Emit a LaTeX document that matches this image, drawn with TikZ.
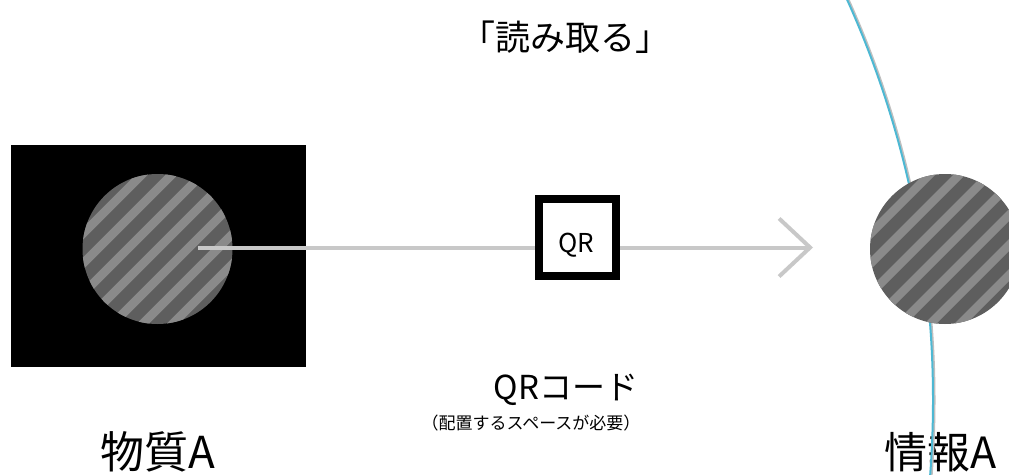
\documentclass[tikz,border=0pt]{standalone}
\usepackage{fontspec}
\setmainfont{Noto Sans CJK JP}
\usetikzlibrary{arrows.meta,calc}
\definecolor{stripedark}{HTML}{5E5E5E}
\definecolor{stripelight}{HTML}{8A8A8A}
\definecolor{connectorgray}{HTML}{C8C8C8}
\definecolor{arcblue}{HTML}{4DB8D3}
\tikzset{
  striped/.style={circle, minimum size=150pt, inner sep=0pt, fill=stripedark,
    path picture={
      \foreach \i in {-6,...,6}{
        \draw[stripelight, line width=8.5pt]
          ($(path picture bounding box.center)+(\i*30,0)+(-120,120)$) -- ++(240,-240);
      }}},
  txt/.style={anchor=base, inner sep=0pt, text=black},
  qrbox/.style={draw=black, line width=8pt, fill=white, minimum size=77pt, inner sep=0pt},
  connectorline/.style={draw=connectorgray, line width=4pt,
    -{Straight Barb[length=31pt,width=58pt,line width=4pt]}},
  arcline/.style={draw=arcblue, line width=2pt},
  arcshadow/.style={draw=black!25, line width=2pt},
}
\begin{document}
\begin{tikzpicture}[x=1pt,y=-1pt]
\path[use as bounding box] (0,0) rectangle (1009,474);
\clip (0,0) rectangle (1009,474);
% matter A
\node[fill=black, minimum width=295pt, minimum height=222pt, inner sep=0pt] (matter) at (158.5,256) {};
\node[striped] (circA) at (157.5,249) {};
% texts
\node[txt, font=\fontsize{35}{38}\selectfont] (title) at (565,50) {「読み取る」};
\node[txt, font=\fontsize{44}{48}\selectfont] (labA) at (158,468) {物質A};
\node[txt, font=\fontsize{43}{47}\selectfont] (labB) at (941,468) {情報A};
\node[txt, font=\fontsize{33}{36}\selectfont] (qrcap) at (566,399) {QRコード};
\node[txt, font=\fontsize{17}{19}\selectfont] (note) at (531,429) {（配置するスペースが必要）};
% connector
\coordinate (start) at (198,247.5);
\coordinate (tip) at (813,247.5);
\draw[connectorline] (start) -- (tip);
\node[qrbox] (qr) at (577.5,237.5) {};
\node[txt, font=\fontsize{26}{28}\selectfont] (qrtext) at (576,252) {QR};
% information boundary arc
\coordinate (arcc) at (-40,400);
\draw[arcshadow] ([xshift=1.5pt]arcc) circle (973);
\draw[arcline] (arcc) circle (973);
% information A
\node[striped] (circB) at (945,249) {};
\end{tikzpicture}
\end{document}
